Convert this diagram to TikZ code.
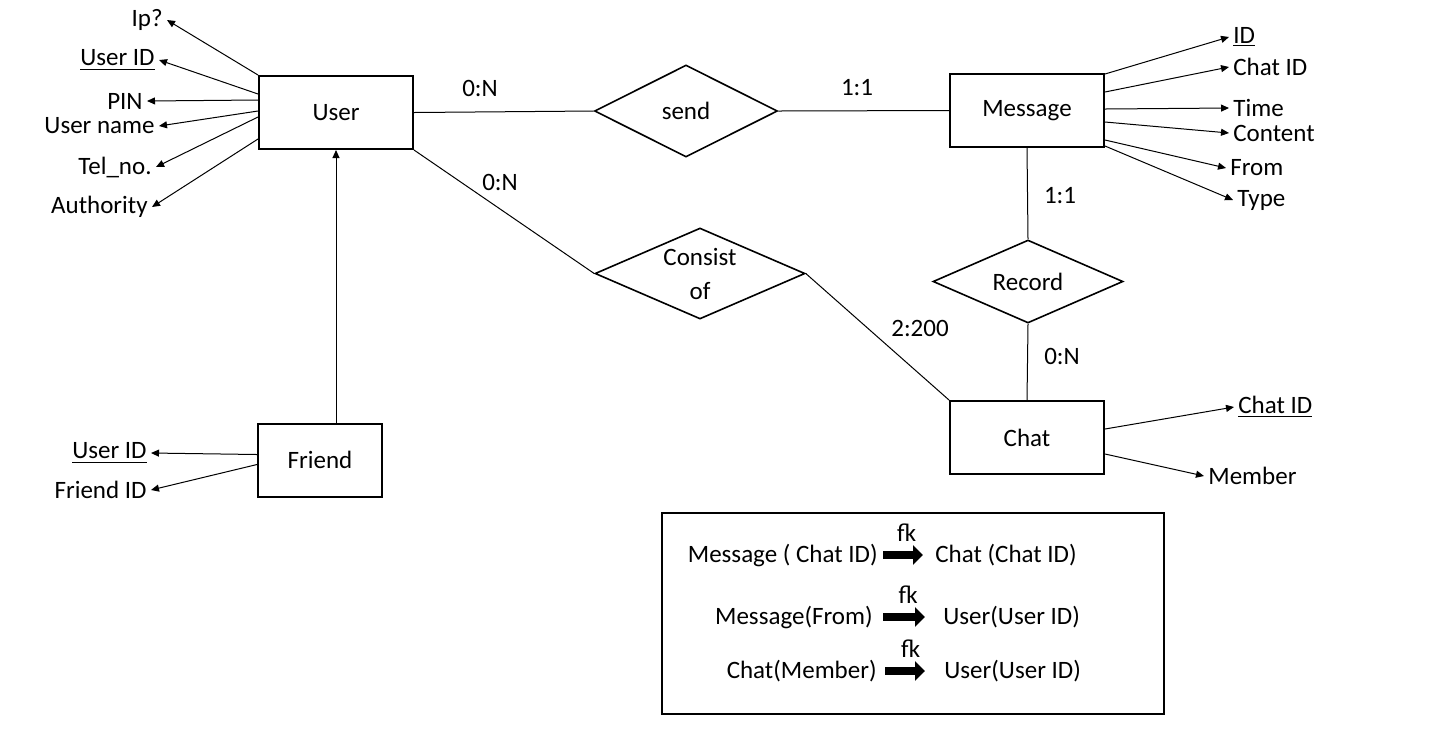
\documentclass[tikz,border=0pt]{standalone}
\usepackage{fontspec}
\setmainfont{Carlito}
\usepackage{tikz}
\usetikzlibrary{shapes.geometric,arrows.meta,calc}
\newcommand{\erfont}{\fontsize{12.5}{17}\selectfont}
\tikzset{
  lbl/.style={font=\erfont, inner sep=2pt},
  entity/.style={draw, line width=1pt, font=\erfont, minimum width=77pt, minimum height=36.5pt},
  rel/.style={draw, diamond, aspect=2.2, line width=0.8pt, inner sep=0pt, font=\erfont},
  link/.style={line width=0.5pt},
  attr/.style={line width=0.5pt, -{Triangle[length=4pt,width=3.5pt]}},
  fk/.style={line width=3.8pt, -{Triangle[length=5pt,width=9.5pt]}}
}

\begin{document}
\begin{tikzpicture}[x=0.5pt,y=-0.5pt]
\useasboundingbox (0,0) rectangle (1438,746);
\node[entity] (user) at (336,112.5) {User};
\node[entity] (msg) at (1027,110.5) {Message};
\node[entity] (chat) at (1027,437.5) {Chat};
\node[entity, minimum width=62pt] (friend) at (320,460) {Friend};
\node[rel, minimum width=91.5pt, minimum height=46pt] (send) at (686,111) {send};
\node[rel, minimum width=105pt, minimum height=45.5pt, align=center] (consist) at (700,273.5) {Consist\\of};
\node[rel, minimum width=95pt, minimum height=41.5pt] (record) at (1028,281.5) {Record};

\draw[link] (user.east) -- (send.west);
\draw[link] (send.east) -- (msg.west);
\draw[link] (user.south east) -- (consist.west);
\draw[link] (consist.east) -- (chat.north west);
\draw[link] (msg.south) -- (record.north);
\draw[link] (record.south) -- (chat.north);
\draw[attr] (friend.north -| user.south) -- (user.south);

\node[lbl] (card1) at (480,88) {0:N};
\node[lbl] (card2) at (857,88) {1:1};
\node[lbl] (card3) at (500,182) {0:N};
\node[lbl] (card4) at (920,328) {2:200};
\node[lbl] (card5) at (1060,196) {1:1};
\node[lbl] (card6) at (1062,356) {0:N};

\foreach \nm/\txt/\x/\y/\dy in {uip/Ip?/167/20/0, uid/\underline{User ID}/159/60/19, upin/PIN/147/101/25,
  uname/User name/159/126/36, utel/Tel\_no./156/167/42, uauth/Authority/152/207/64} {
  \node[lbl, anchor=east] (\nm) at (\x,\y) {\txt};
  \draw[attr] ($(user.north west)+(0,\dy)$) -- (\nm.east);
}
\foreach \nm/\txt/\x/\y/\dy in {mid/\underline{ID}/1229/37/1, mcid/Chat ID/1229/67/19, mtime/Time/1229/108/36,
  mcont/Content/1229/133/49, mfrom/From/1226/168/67, mtype/Type/1233/200/73} {
  \node[lbl, anchor=west] (\nm) at (\x,\y) {\txt};
  \draw[attr] ($(msg.north east)+(0,\dy)$) -- (\nm.west);
}
\foreach \nm/\txt/\x/\y/\dy in {chid/\underline{Chat ID}/1234/407/29, cmem/Member/1204/476/54} {
  \node[lbl, anchor=west] (\nm) at (\x,\y) {\txt};
  \draw[attr] ($(chat.north east)+(0,\dy)$) -- (\nm.west);
}
\foreach \nm/\txt/\x/\y/\dy in {fuid/\underline{User ID}/151/453/32, ffid/Friend ID/151/490/42} {
  \node[lbl, anchor=east] (\nm) at (\x,\y) {\txt};
  \draw[attr] ($(friend.north west)+(0,\dy)$) -- (\nm.east);
}

\node[draw, line width=1pt, minimum width=251pt, minimum height=100.5pt] (legend) at (913,613.5) {};
\foreach \r/\src/\dst/\y/\xa/\xb/\sa/\sb in {1/Message ( Chat ID)/Chat (Chat ID)/555/878/935/2.5pt/6pt,
  2/Message(From)/User(User ID)/617/873/943/5pt/9pt, 3/Chat(Member)/User(User ID)/671/877/944/4pt/9.5pt} {
  \node[lbl, anchor=east, inner sep=0pt] (src\r) at (\xa,\y) {\src};
  \node[lbl, anchor=west, inner sep=0pt] (dst\r) at (\xb,\y) {\dst};
  \draw[fk, shorten <=\sa, shorten >=\sb] (src\r.east) -- (dst\r.west) node[lbl, midway, above=3pt] (fk\r) {fk};
}
\end{tikzpicture}
\end{document}
